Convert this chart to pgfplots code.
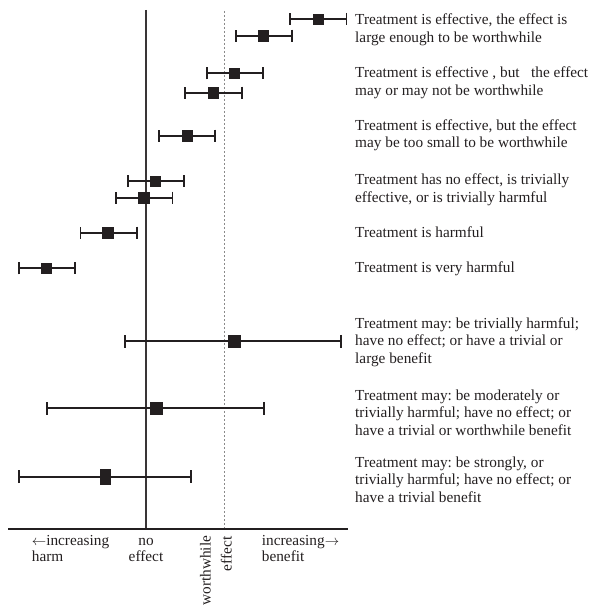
\documentclass[border=0pt]{standalone}
\usepackage{pgfplots}
\pgfplotsset{compat=1.18}
\usepackage{pgfplotstable}
\usepackage{fontspec}
\setmainfont{Liberation Serif}
\frenchspacing
\definecolor{ink}{HTML}{231F20}
\definecolor{dotc}{HTML}{8A8A8A}
\newcommand\txt{\fontsize{15.3}{17.5}\selectfont}
\newcommand\lbl{\fontsize{15.3}{16.7}\selectfont}

% effect scale: 0 = no effect, 1 = worthwhile effect; y = row position (from top)
\pgfplotstableread{
x     em    ep    y
2.21  0.36  0.36  19.0
1.50  0.35  0.37  35.7
1.13  0.35  0.37  73.3
0.86  0.36  0.37  92.7
0.53  0.36  0.35  135.7
0.12  0.35  0.37  181.0
-0.03 0.35  0.37  197.7
-0.49 0.35  0.37  232.7
-1.28 0.35  0.37  268.3
}\shortci
\pgfplotstableread{
x     em    ep    y
1.13  1.40  1.37  341.3
0.13  1.40  1.38  408.3
}\wideci
\pgfplotstableread{
x     em    ep    y
-0.52 1.11  1.10  476.7
}\lastci

\begin{document}
\begin{tikzpicture}
\begin{axis}[
  scale only axis, width=339.7pt, height=518.7pt,
  xmin=-1.7654, xmax=2.5897, ymin=10, ymax=528.7, y dir=reverse,
  hide axis, clip=false,
]
\addplot[ink!90!white, line width=1.5pt] coordinates {(0,10) (0,528.7)};
\addplot[dotc, line width=1pt, dash pattern=on 2pt off 2pt] coordinates {(1,11) (1,528.7)};
\addplot[ink, line width=1.6pt] coordinates {(-1.7654,528.7) (2.5897,528.7)};

\addplot[only marks, mark=square*, mark size=5.2pt, color=ink, mark options={draw=none, fill=ink},
  error bars/.cd, x dir=both, x explicit, error mark=|,
  error bar style={line width=1.8pt, draw=ink},
  error mark options={line width=1.8pt, mark size=6pt, draw=ink}]
  table[x=x, y=y, x error minus=em, x error plus=ep] {\shortci};
\addplot[only marks, mark=square*, mark size=6.2pt, color=ink, mark options={draw=none, fill=ink},
  error bars/.cd, x dir=both, x explicit, error mark=|,
  error bar style={line width=1.7pt, draw=ink},
  error mark options={line width=1.7pt, mark size=6.5pt, draw=ink}]
  table[x=x, y=y, x error minus=em, x error plus=ep] {\wideci};
\addplot[only marks, mark=square*, mark size=7.5pt, color=ink, mark options={draw=none, fill=ink, xscale=0.67},
  error bars/.cd, x dir=both, x explicit, error mark=|,
  error bar style={line width=1.7pt, draw=ink},
  error mark options={line width=1.7pt, mark size=6.5pt, draw=ink}]
  table[x=x, y=y, x error minus=em, x error plus=ep] {\lastci};

% nodes anchored at the baseline of their LAST line
\begin{scope}[every node/.style={anchor=base west, align=left, font=\txt, text=ink, inner sep=0pt}]
\node at (axis cs:2.6795,42.3) {Treatment is effective, the effect is\\large enough to be worthwhile};
\node at (axis cs:2.6795,95.0) {Treatment is effective , but\ \ \ the effect\\may or may not be worthwhile};
\node at (axis cs:2.6795,147.5) {Treatment is effective, but the effect\\may be too small to be worthwhile};
\node at (axis cs:2.6795,202.3) {Treatment has no effect, is trivially\\effective, or is trivially harmful};
\node at (axis cs:2.6795,237.3) {Treatment is harmful};
\node at (axis cs:2.6795,272.3) {Treatment is very harmful};
\node at (axis cs:2.6795,363.0) {Treatment may: be trivially harmful;\\have no effect; or have a trivial or\\large benefit};
\node at (axis cs:2.6795,435.0) {Treatment may: be moderately or\\trivially harmful; have no effect; or\\have a trivial or worthwhile benefit};
\node at (axis cs:2.6795,502.0) {Treatment may: be strongly, or\\trivially harmful; have no effect; or\\have a trivial benefit};
\end{scope}

\begin{scope}[every node/.style={font=\lbl, text=ink, inner sep=0pt}]
\node[anchor=base west, align=left] at (axis cs:-1.4654,561.7) {$\leftarrow$increasing\\harm};
\node[anchor=base, align=center] at (axis cs:0,561.7) {no\\effect};
\node[anchor=base west, align=left] at (axis cs:1.4833,561.7) {increasing$\rightarrow$\\benefit};
\node[rotate=90, anchor=base east] at (axis cs:0.8295,535.5) {worthwhile};
\node[rotate=90, anchor=base east] at (axis cs:1.0987,536.5) {effect};
\end{scope}

\coordinate (bbA) at (axis cs:-1.8718,0);
\coordinate (bbB) at (axis cs:5.7308,607);
\end{axis}
\pgfresetboundingbox
\path[use as bounding box] (bbA) rectangle (bbB);
\end{tikzpicture}
\end{document}
